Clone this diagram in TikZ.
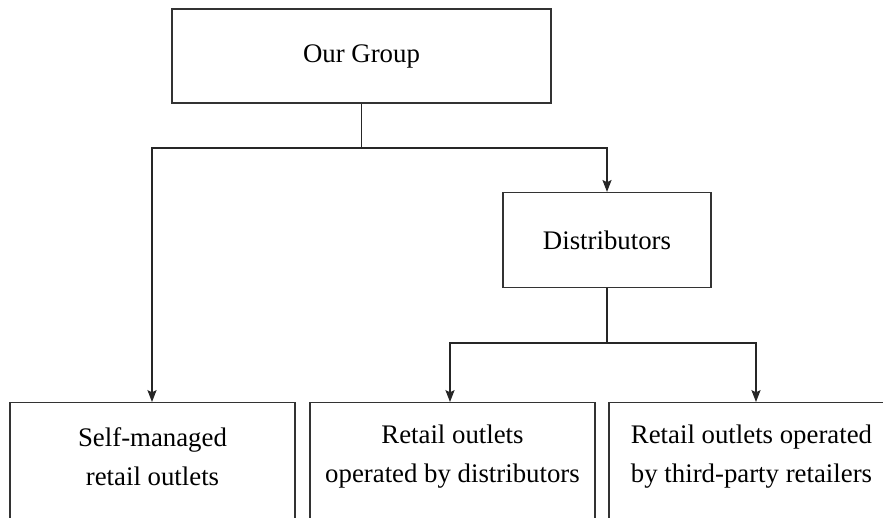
\documentclass[tikz,border=0pt]{standalone}
\usepackage{fontspec}
\setmainfont{Liberation Serif}
\newfontfamily\boxfont{Liberation Serif}
\usetikzlibrary{arrows.meta}
\begin{document}
\begin{tikzpicture}[x=0.5pt, y=-0.5pt,
  box/.style={shape=rectangle, draw=black!80, line width=0.6pt, inner sep=0pt},
  txt/.style={align=center, inner sep=0pt, font=\boxfont\fontsize{13.4}{19.5}\selectfont},
  link/.style={draw=black!85, line width=0.55pt},
  arrow/.style={link, -{Stealth[length=6pt, width=4.6pt, inset=1.2pt]}}]
\useasboundingbox (0,0) rectangle (883,518);
\clip (0,0) rectangle (883,518);
% top level
\node[box, txt, minimum width=189.5pt, minimum height=47pt] (group) at (361.5,56) {Our Group};
\node[box, txt, minimum width=104pt, minimum height=47.5pt] (dist) at (607,240) {Distributors};
% outlets, cut at the bottom
\node[box, minimum width=142.5pt, minimum height=80pt, anchor=north] (self) at (152.5,402) {};
\node[box, minimum width=142.5pt, minimum height=80pt, anchor=north] (retail) at (452.5,402) {};
\node[box, minimum width=142.5pt, minimum height=80pt, anchor=north] (third) at (751.5,402) {};
\node[txt] (selftext) at (152.5,456.5) {Self-managed\\retail outlets};
\node[txt] (retailtext) at (452.5,456.5) {Retail outlets\\operated by distributors};
\node[txt] (thirdtext) at (751.5,456.5) {Retail outlets operated\\by third-party retailers};
% connectors
\coordinate (split1) at (361.5,148);
\coordinate (split2) at (607,343);
\draw[link] (group) -- (split1);
\draw[arrow] (split1) -| ([xshift=-0.25pt]self.north);
\draw[arrow] (split1) -| (dist.north);
\draw[link] (dist) -- (split2);
\draw[arrow] (split2) -| ([xshift=-1.25pt]retail.north);
\draw[arrow] (split2) -| ([xshift=2.25pt]third.north);
\end{tikzpicture}
\end{document}
